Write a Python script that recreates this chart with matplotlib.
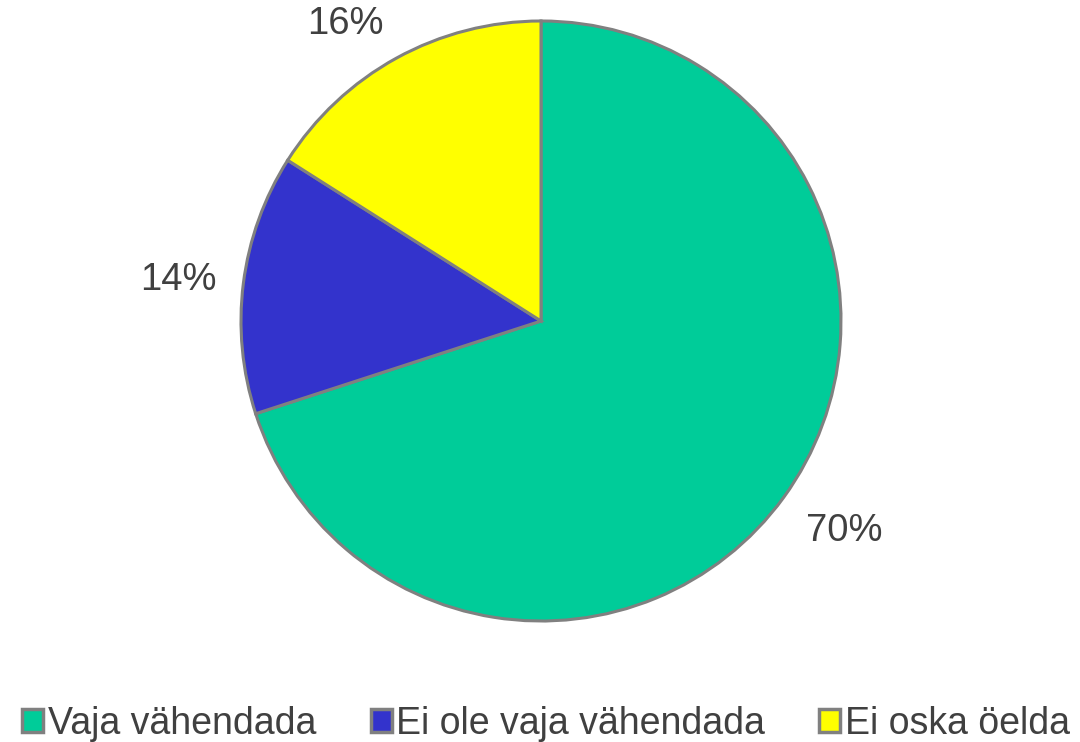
import matplotlib
matplotlib.use("Agg")
import matplotlib.pyplot as plt
import numpy as np

labels = ["Vaja vähendada", "Ei ole vaja vähendada", "Ei oska öelda"]
shares = [70, 14, 16]
colors = ["#00CC99", "#3333CC", "#FFFF00"]

plt.rcParams["font.family"] = ["Liberation Sans", "DejaVu Sans"]
W, H = 1080, 742
fig = plt.figure(figsize=(W / 100, H / 100), dpi=100)
cx, cy, r = 541, 321, 300
ax = fig.add_axes([(cx - r) / W, (H - cy - r) / H, 2 * r / W, 2 * r / H])

wedges, _ = ax.pie(shares, colors=colors, startangle=90, counterclock=False, radius=1,
                   wedgeprops=dict(edgecolor="#808080", linewidth=2.2))
# percentage labels just outside the rim, anchored like Excel's "outside end"
for w, v in zip(wedges, shares):
    ang = np.deg2rad((w.theta1 + w.theta2) / 2)
    c, s = np.cos(ang), np.sin(ang)
    ha = "left" if c > 0 else "right"
    va = "baseline" if s > 0.5 else ("top" if s < -0.5 else "center")
    ax.text(1.09 * c, 1.09 * s, f"{v}%", ha=ha, va=va, fontsize=27.5, color="#404040",
            clip_on=False)
ax.set_xlim(-1, 1); ax.set_ylim(-1, 1)
ax.set_aspect("equal")

leg = fig.legend(wedges, labels, loc="center", bbox_to_anchor=(546 / W, 1 - 724 / H), ncol=3,
                 frameon=False, fontsize=27, handlelength=0.56, handleheight=0.56,
                 handletextpad=0.12, columnspacing=1.45, labelcolor="#404040",
                 borderpad=0, borderaxespad=0)
for h in leg.legend_handles:
    h.set_linewidth(2.5)
fig.savefig("out.png", dpi=100)
